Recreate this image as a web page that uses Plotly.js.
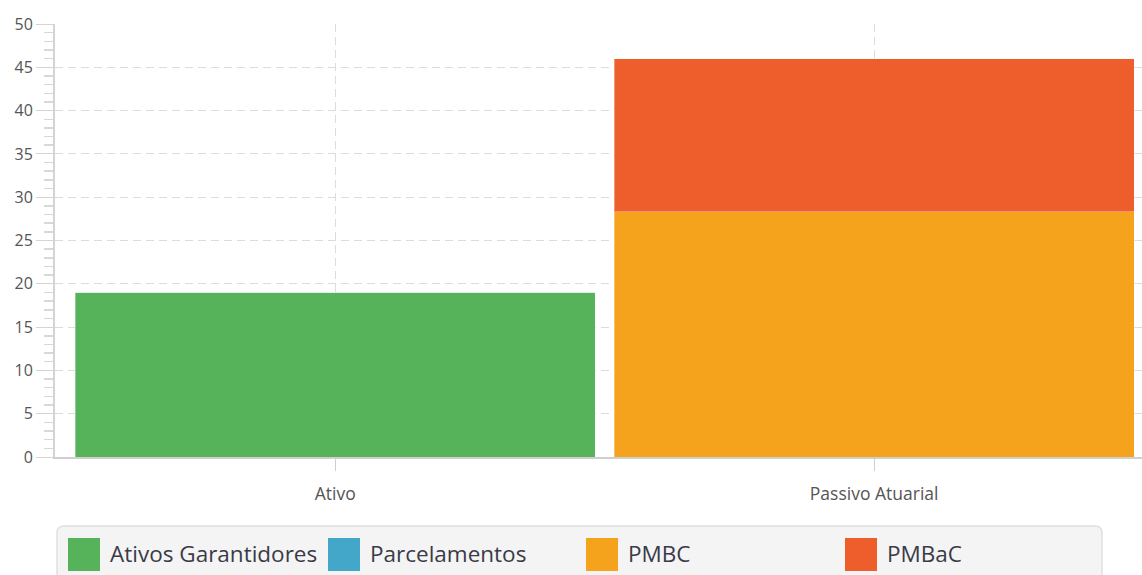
<!DOCTYPE html>
<html>
<head>
<meta charset="utf-8">
<script src="https://cdn.plot.ly/plotly-3.0.1.min.js"></script>
<style>
  html, body { margin: 0; padding: 0; background: #fff; }
  #chart { width: 1142px; height: 575px; }
</style>
</head>
<body>
<div id="chart"></div>
<script>
// categories and series
const categories = ['Ativo', 'Passivo Atuarial'];
const seriesNames = ['Ativos Garantidores', 'Parcelamentos', 'PMBC', 'PMBaC'];
const ativosGarantidores = [19, 0];
const parcelamentos = [0, 0];
const pmbc = [0, 28.3];
const pmbac = [0, 17.7];
const seriesColors = ['#57b35a', '#42a7c8', '#f5a21d', '#ee5e2c'];

const seriesValues = [ativosGarantidores, parcelamentos, pmbc, pmbac];

const traces = seriesNames.map((name, i) => ({
  type: 'bar',
  name: name,
  x: categories,
  y: seriesValues[i],
  width: 0.965,
  marker: { color: seriesColors[i], line: { color: 'rgba(255,255,255,0.35)', width: 1 } },
  hoverinfo: 'x+y+name',
  showlegend: false
}));

// plot area in pixels, used to place the hand-made legend
const plotL = 55, plotR = 1142, plotT = 24, plotB = 457;
const px = v => (v - plotL) / (plotR - plotL);
const py = v => (plotB - v) / (plotB - plotT);

// rounded legend box, in pixel units converted to paper
function roundedBox(x0, y0, x1, y1, r) {
  const X = v => px(v), Y = v => py(v);
  return `M ${X(x0 + r)},${Y(y0)} L ${X(x1 - r)},${Y(y0)} Q ${X(x1)},${Y(y0)} ${X(x1)},${Y(y0 + r)}` +
    ` L ${X(x1)},${Y(y1)} L ${X(x0)},${Y(y1)} L ${X(x0)},${Y(y0 + r)} Q ${X(x0)},${Y(y0)} ${X(x0 + r)},${Y(y0)} Z`;
}

const legendX = [68, 328, 586, 845];
const shapes = [{
  type: 'path', xref: 'paper', yref: 'paper',
  path: roundedBox(57, 526, 1102, 590, 7),
  fillcolor: '#f4f4f4', line: { color: '#e0e0e0', width: 1.5 }, layer: 'below'
}];
const annotations = [];
seriesNames.forEach((name, i) => {
  shapes.push({
    type: 'rect', xref: 'paper', yref: 'paper',
    x0: px(legendX[i]), x1: px(legendX[i] + 32), y0: py(571), y1: py(538),
    fillcolor: seriesColors[i], line: { width: 0 }
  });
  annotations.push({
    xref: 'paper', yref: 'paper',
    x: px(legendX[i] + 40), y: py(553),
    xanchor: 'left', yanchor: 'middle',
    text: name, showarrow: false,
    font: { family: 'Open Sans, sans-serif', size: 22.5, color: '#3a3a48' }
  });
});

const layout = {
  width: 1142,
  height: 575,
  margin: { l: plotL, r: 1142 - plotR, t: plotT, b: 575 - plotB },
  paper_bgcolor: '#fff',
  plot_bgcolor: '#fff',
  barmode: 'stack',
  showlegend: false,
  font: { family: 'Open Sans, sans-serif', color: '#555' },
  xaxis: {
    type: 'category',
    range: [-0.52, 1.497],
    showgrid: true,
    gridcolor: '#dcdcdc',
    griddash: '8px,5px',
    showline: true,
    linecolor: '#cfcfcf',
    linewidth: 1.5,
    ticks: 'outside',
    ticklen: 12,
    tickcolor: '#cfcfcf',
    ticklabelstandoff: 8,
    tickfont: { size: 17.5, color: '#555' },
    zeroline: false
  },
  yaxis: {
    range: [0, 50],
    dtick: 5,
    showgrid: true,
    gridcolor: '#dcdcdc',
    griddash: '8px,5px',
    showline: true,
    linecolor: '#d4d4d4',
    linewidth: 2,
    ticks: 'outside',
    ticklen: 17,
    tickcolor: '#d4d4d4',
    tickfont: { size: 16, color: '#555' },
    zeroline: false,
    minor: { dtick: 1, ticks: 'outside', ticklen: 9, tickcolor: '#d8d8d8', tickwidth: 1.5, showgrid: false }
  },
  shapes: shapes,
  annotations: annotations
};

Plotly.newPlot('chart', traces, layout, { displayModeBar: false, staticPlot: true });
</script>
</body>
</html>
